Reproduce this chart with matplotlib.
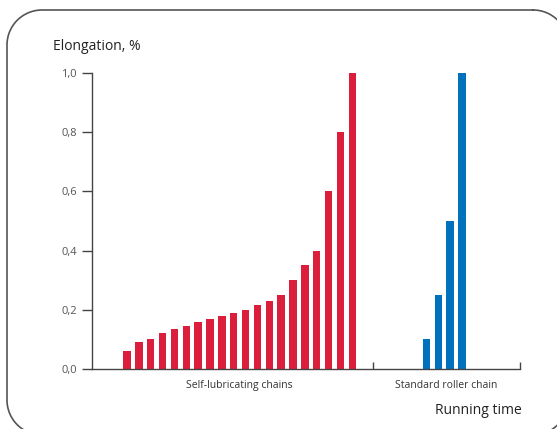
import numpy as np
import matplotlib
matplotlib.use('Agg')
import matplotlib.pyplot as plt
from matplotlib.lines import Line2D

# data
self_lub = [0.06, 0.09, 0.10, 0.12, 0.135, 0.145, 0.16, 0.17, 0.18, 0.19,
            0.20, 0.215, 0.23, 0.25, 0.30, 0.35, 0.40, 0.60, 0.80, 1.0]
standard = [0.10, 0.25, 0.50, 1.0]
groups = ['Self-lubricating chains', 'Standard roller chain']
y_ticks = [0.0, 0.2, 0.4, 0.6, 0.8, 1.0]
y_labels = ['0,0', '0,2', '0,4', '0,6', '0,8', '1,0']

RED = '#DA1E3C'
BLUE = '#0071BC'
GREY = '#444444'

plt.rcParams['font.family'] = ['Open Sans', 'DejaVu Sans']

W, H = 557, 429
fig = plt.figure(figsize=(W / 100, H / 100), dpi=100)


def rounded_frame(x0, y0, x1, y1, r, n=30):
    # corners in pixel coords, y measured from the top
    pts = []
    for cx, cy, a0 in [(x1 - r, y0 + r, -90), (x1 - r, y1 - r, 0),
                       (x0 + r, y1 - r, 90), (x0 + r, y0 + r, 180)]:
        t = np.radians(np.linspace(a0, a0 + 90, n))
        pts.append(np.column_stack([cx + r * np.cos(t), cy + r * np.sin(t)]))
    pts = np.vstack(pts + [pts[0][:1]])
    return pts[:, 0] / W, 1 - pts[:, 1] / H


fx, fy = rounded_frame(7, 10, 568, 435, 35)
fig.add_artist(Line2D(fx, fy, transform=fig.transFigure, color='#555555',
                      linewidth=1.2, clip_on=False))

ax = fig.add_axes([92 / W, (H - 369) / H, 428 / W, 296 / H])

x_red = np.arange(len(self_lub))
x_blue = 25.25 + np.arange(len(standard))
width = 0.62
ax.bar(x_red, self_lub, width=width, color=RED)
ax.bar(x_blue, standard, width=width, color=BLUE)

ax.set_xlim(-2.95, 33.14)
ax.set_ylim(0, 1.0)

for s in ['top', 'right']:
    ax.spines[s].set_visible(False)
for s in ['left', 'bottom']:
    ax.spines[s].set_color(GREY)
    ax.spines[s].set_linewidth(1.0)

ax.set_yticks(y_ticks)
ax.set_yticklabels(y_labels)
ax.tick_params(axis='y', direction='out', length=7, width=1.0, color=GREY,
               pad=4, labelsize=8, labelcolor='#555555')

# group labels under the bars, separator ticks pointing up
ax.set_xticks([x_red.mean(), x_blue.mean() + 0.15])
ax.set_xticklabels(groups)
ax.tick_params(axis='x', which='major', length=0, pad=8, labelsize=7.5,
               labelcolor='#333333')
ax.set_xticks([20.74, 33.1], minor=True)
ax.tick_params(axis='x', which='minor', direction='in', length=5, width=1.0,
               color=GREY)

fig.text(53 / W, (H - 47) / H, 'Elongation, %', fontsize=10,
         color='#222222', ha='left', va='center')
fig.text(522 / W, (H - 410) / H, 'Running time', fontsize=10,
         color='#222222', ha='right', va='center')

fig.savefig('out.png', dpi=100)
